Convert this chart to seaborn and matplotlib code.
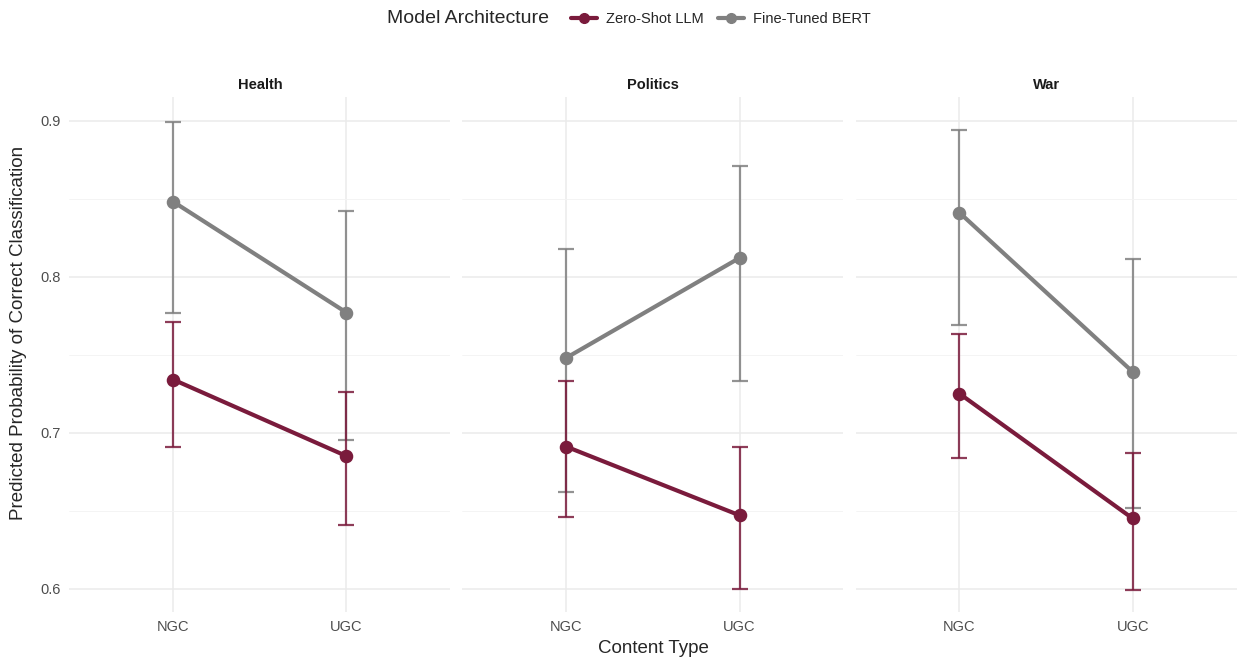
import matplotlib
matplotlib.use("Agg")
import matplotlib.pyplot as plt
from matplotlib.lines import Line2D
from matplotlib.ticker import MultipleLocator, FormatStrFormatter
import seaborn as sns
import pandas as pd

# values
topics = ["Health", "Politics", "War"]
content_types = ["NGC", "UGC"]
models = ["Zero-Shot LLM", "Fine-Tuned BERT"]

# order per topic: NGC, UGC
llm_prob = {"Health": [0.734, 0.685], "Politics": [0.691, 0.647], "War": [0.725, 0.645]}
llm_low = {"Health": [0.691, 0.641], "Politics": [0.646, 0.600], "War": [0.684, 0.599]}
llm_high = {"Health": [0.771, 0.726], "Politics": [0.733, 0.691], "War": [0.763, 0.687]}

bert_prob = {"Health": [0.848, 0.777], "Politics": [0.748, 0.812], "War": [0.841, 0.739]}
bert_low = {"Health": [0.777, 0.695], "Politics": [0.662, 0.733], "War": [0.769, 0.652]}
bert_high = {"Health": [0.899, 0.842], "Politics": [0.818, 0.871], "War": [0.894, 0.811]}

maroon = "#7A1B3C"
grey = "#808080"
palette = {"Zero-Shot LLM": maroon, "Fine-Tuned BERT": grey}

rows = []
for t in topics:
    for i, c in enumerate(content_types):
        rows.append((t, c, "Zero-Shot LLM", llm_prob[t][i], llm_low[t][i], llm_high[t][i]))
        rows.append((t, c, "Fine-Tuned BERT", bert_prob[t][i], bert_low[t][i], bert_high[t][i]))
df = pd.DataFrame(rows, columns=["topic", "content", "model", "prob", "low", "high"])


def draw_panel(data, **kws):
    ax = plt.gca()
    # error bars first so points sit on top
    for m in ["Fine-Tuned BERT", "Zero-Shot LLM"]:
        sub = data[data["model"] == m]
        xs = [content_types.index(c) for c in sub["content"]]
        ax.errorbar(xs, sub["prob"],
                    yerr=[sub["prob"] - sub["low"], sub["high"] - sub["prob"]],
                    fmt="none", ecolor=palette[m], alpha=0.85,
                    elinewidth=1.6, capsize=6, capthick=1.6, zorder=2)
    sns.pointplot(data=data, x="content", y="prob", hue="model",
                  order=content_types, hue_order=["Fine-Tuned BERT", "Zero-Shot LLM"],
                  palette=palette, errorbar=None, markers="o",
                  markersize=7.5, linewidth=3, ax=ax, legend=False)


sns.set_theme(style="white")
plt.rcParams["font.family"] = ["Liberation Sans", "DejaVu Sans"]

g = sns.FacetGrid(df, col="topic", col_order=topics, sharey=True,
                  height=6.66, aspect=12.39 / 6.66 / 3)
g.map_dataframe(draw_panel)
g.figure.set_size_inches(12.39, 6.66)
g.figure.subplots_adjust(left=0.056, right=0.998, top=0.854, bottom=0.081, wspace=0.032)
g.set_titles("{col_name}", fontweight="bold", size=10.5, color="#1A1A1A")

for ax in g.axes.flat:
    ax.set_xlim(-0.6, 1.6)
    ax.set_ylim(0.585, 0.915)
    ax.yaxis.set_major_locator(MultipleLocator(0.1))
    ax.yaxis.set_minor_locator(MultipleLocator(0.05))
    ax.yaxis.set_major_formatter(FormatStrFormatter("%.1f"))
    ax.grid(True, which="major", color="#EBEBEB", linewidth=1.1)
    ax.grid(True, which="minor", axis="y", color="#F3F3F3", linewidth=0.6)
    ax.set_axisbelow(True)
    for s in ax.spines.values():
        s.set_visible(False)
    ax.tick_params(axis="both", which="both", length=0, labelsize=10.5,
                   labelcolor="#4D4D4D", pad=6)
    ax.set_xlabel("")
    ax.set_ylabel("")

g.figure.supylabel("Predicted Probability of Correct Classification",
                   x=0.008, y=0.5, fontsize=13.5)
g.figure.text(0.527, 0.013, "Content Type", ha="center", va="bottom", fontsize=13.5)

handles = [Line2D([0], [0], color=palette[m], marker="o", markersize=7, linewidth=3)
           for m in models]
g.figure.text(0.312, 0.972, "Model Architecture", ha="left", va="center", fontsize=14)
g.figure.legend(handles, models, loc="center left", bbox_to_anchor=(0.456, 0.972),
                ncol=2, frameon=False, fontsize=10.5, handlelength=1.8,
                columnspacing=1.0, handletextpad=0.6, borderaxespad=0)

g.figure.savefig("out.png", dpi=100, facecolor="white")
